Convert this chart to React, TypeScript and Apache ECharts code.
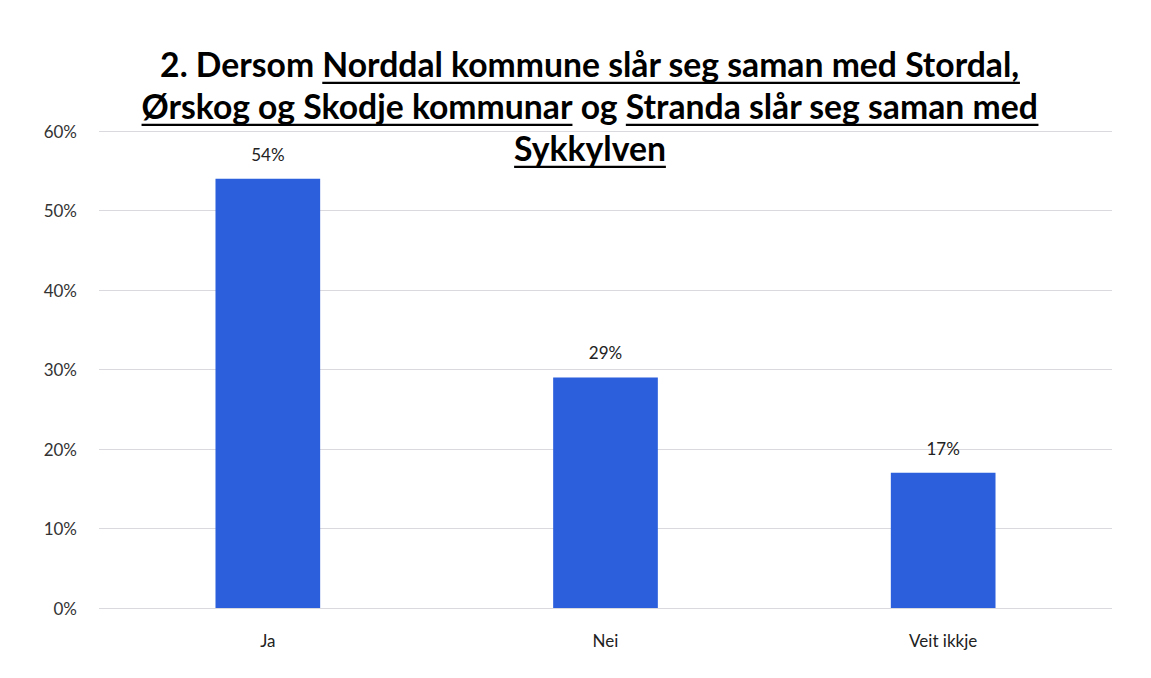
import React, { useEffect, useRef } from "react";
import * as echarts from "echarts";

const categories = ["Ja", "Nei", "Veit ikkje"];
const values = [54, 29, 17];
const yTicks = { min: 0, max: 60, interval: 10 };

const titleLines: { text: string; underline: boolean }[][] = [
  [
    { text: "2. Dersom ", underline: false },
    { text: "Norddal kommune slår seg saman med Stordal,", underline: true },
  ],
  [
    { text: "Ørskog og Skodje kommunar", underline: true },
    { text: " og ", underline: false },
    { text: "Stranda slår seg saman med", underline: true },
  ],
  [{ text: "Sykkylven", underline: true }],
];

const FONT = "Lato, 'Liberation Sans', sans-serif";

export default function App() {
  const ref = useRef<HTMLDivElement>(null);
  useEffect(() => {
    document.body.style.margin = "0";
    if (!ref.current) return;
    const chart = echarts.init(ref.current, null, { renderer: "svg" });

    const canvas = document.createElement("canvas");
    const ctx = canvas.getContext("2d")!;
    const measure = (t: string, size: number) => {
      ctx.font = `bold ${size}px ${FONT}`;
      return ctx.measureText(t).width;
    };
    const line1 = titleLines[0].map((s) => s.text).join("");
    const targetW = 860;
    let fs = (100 * targetW) / measure(line1, 100);
    fs = Math.round(fs * 10) / 10;

    const centerX = 590;
    const lineY = [64, 106, 148];
    const elements: any[] = [];
    titleLines.forEach((segs, i) => {
      const widths = segs.map((s) => measure(s.text, fs));
      const total = widths.reduce((a, b) => a + b, 0);
      let x = centerX - total / 2;
      segs.forEach((s, j) => {
        elements.push({
          type: "text",
          x,
          y: lineY[i],
          style: {
            text: s.text,
            font: `bold ${fs}px ${FONT}`,
            fill: "#000000",
            textAlign: "left",
            textVerticalAlign: "middle",
          },
        });
        if (s.underline) {
          let x1 = x;
          let x2 = x + widths[j];
          const trimmedStart = s.text.length - s.text.trimStart().length;
          const trimmedEnd = s.text.length - s.text.trimEnd().length;
          if (trimmedStart) x1 += measure(s.text.slice(0, trimmedStart), fs);
          if (trimmedEnd) x2 -= measure(s.text.slice(s.text.length - trimmedEnd), fs);
          const uy = lineY[i] + fs * 0.56;
          elements.push({
            type: "line",
            shape: { x1, y1: uy, x2, y2: uy },
            style: { stroke: "#000000", lineWidth: 2.2 },
          });
        }
        x += widths[j];
      });
    });

    chart.setOption({
      animation: false,
      backgroundColor: "#ffffff",
      grid: { left: 99, right: 39, top: 131, bottom: 70, containLabel: false },
      xAxis: {
        type: "category",
        data: categories,
        axisLine: { show: false },
        axisTick: { show: false },
        axisLabel: {
          color: "#222222",
          fontSize: 17,
          fontFamily: FONT,
          margin: 24,
        },
      },
      yAxis: {
        type: "value",
        min: yTicks.min,
        max: yTicks.max,
        interval: yTicks.interval,
        axisLine: { show: false },
        axisTick: { show: false },
        axisLabel: {
          formatter: "{value}%",
          color: "#333333",
          fontSize: 17,
          fontFamily: FONT,
          margin: 22,
        },
        splitLine: { lineStyle: { color: "#d9d9de", width: 1 } },
      },
      series: [
        {
          type: "bar",
          data: values,
          barWidth: "31%",
          itemStyle: { color: "#2b5fdc" },
          label: {
            show: true,
            position: "top",
            distance: 16,
            formatter: "{c}%",
            color: "#222222",
            fontSize: 17,
            fontFamily: FONT,
          },
        },
      ],
      graphic: elements,
    });
    return () => chart.dispose();
  }, []);
  return <div ref={ref} style={{ width: 1151, height: 678 }} />;
}
